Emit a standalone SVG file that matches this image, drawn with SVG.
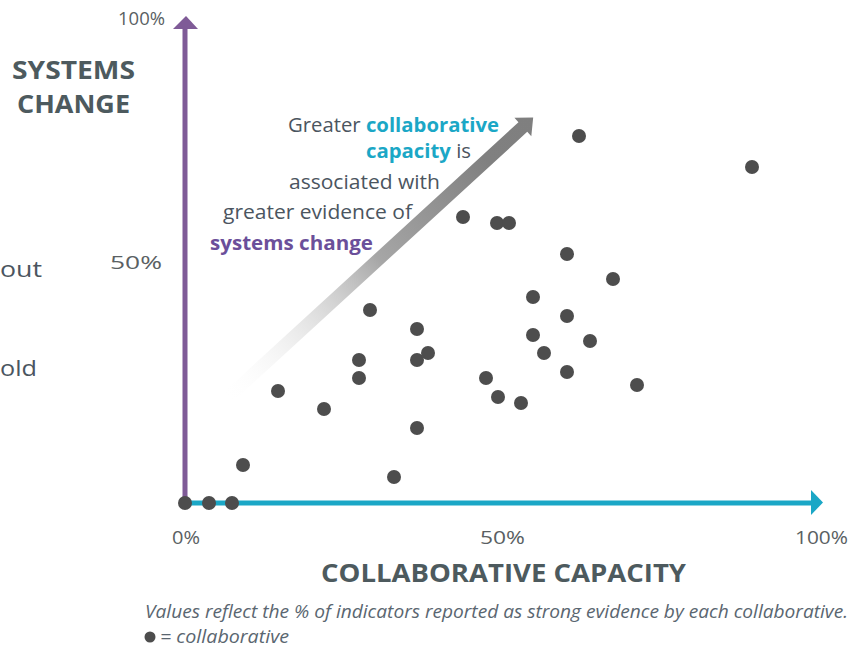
<svg xmlns="http://www.w3.org/2000/svg" width="864" height="650" viewBox="0 0 864 650">
<defs>
<linearGradient id="fade" x1="0" y1="0" x2="1" y2="0">
<stop offset="0" stop-color="#ffffff" stop-opacity="0"/>
<stop offset="0.5" stop-color="#a6a6a6"/>
<stop offset="0.85" stop-color="#808080"/>
<stop offset="1" stop-color="#7f7f7f"/>
</linearGradient>
<style>
.t{font-family:"Open Sans","Liberation Sans",sans-serif;fill:#4b5560}
.tick{font-size:18px;fill:#5a5f63}
.hd{font-weight:bold;font-size:25px;fill:#4d5a5e}
.ann{font-size:20px}
.teal{fill:#1ba7c6;font-weight:bold}
.purp{fill:#6b4f9a;font-weight:bold}
.cap{font-style:italic;font-size:18px;fill:#5a6670}
.dot{fill:#4d4d4d}
</style>
</defs>
<rect width="864" height="650" fill="#ffffff"/>

<!-- clipped side fragments -->
<text class="t" x="0" y="277" font-size="21" textLength="42" lengthAdjust="spacingAndGlyphs">out</text>
<text class="t" x="0" y="376" font-size="21" textLength="37" lengthAdjust="spacingAndGlyphs">old</text>

<!-- axis titles -->
<g id="y-title">
<text class="t hd" x="12" y="79" textLength="123" lengthAdjust="spacingAndGlyphs">SYSTEMS</text>
<text class="t hd" x="17" y="113" textLength="113" lengthAdjust="spacingAndGlyphs">CHANGE</text>
</g>
<g id="x-title">
<text class="t hd" x="321" y="582" font-size="23" textLength="365" lengthAdjust="spacingAndGlyphs">COLLABORATIVE CAPACITY</text>
</g>

<!-- tick labels -->
<g id="ticks">
<text class="t tick" x="118" y="25" textLength="47" lengthAdjust="spacingAndGlyphs">100%</text>
<text class="t tick" x="110" y="269" textLength="52" lengthAdjust="spacingAndGlyphs">50%</text>
<text class="t tick" x="172" y="544" textLength="28" lengthAdjust="spacingAndGlyphs">0%</text>
<text class="t tick" x="480" y="544" textLength="45" lengthAdjust="spacingAndGlyphs">50%</text>
<text class="t tick" x="795" y="544" textLength="53" lengthAdjust="spacingAndGlyphs">100%</text>
</g>

<!-- trend arrow -->
<g id="trend-arrow" transform="translate(225,400) rotate(-42.5)">
<polygon points="0,-6.5 404,-6.5 404,-12.5 418,0 404,12.5 404,6.5 0,6.5" fill="url(#fade)"/>
</g>

<!-- annotation -->
<g id="annotation">
<text class="t ann" x="288" y="132" textLength="211" lengthAdjust="spacingAndGlyphs">Greater <tspan class="teal">collaborative</tspan></text>
<text class="t ann" x="366" y="158" textLength="105" lengthAdjust="spacingAndGlyphs"><tspan class="teal">capacity</tspan> is</text>
<text class="t ann" x="289" y="189" textLength="151" lengthAdjust="spacingAndGlyphs">associated with</text>
<text class="t ann" x="223" y="219" textLength="189" lengthAdjust="spacingAndGlyphs">greater evidence of</text>
<text class="t ann purp" x="210" y="250" textLength="163" lengthAdjust="spacingAndGlyphs">systems change</text>
</g>

<!-- axes -->
<g id="axes">
<line x1="185" y1="503" x2="185" y2="27" stroke="#7f5b97" stroke-width="5"/>
<polygon points="173,29 186,16 198,29" fill="#7f5b97"/>
<line x1="185" y1="503" x2="813" y2="503" stroke="#1ba7c6" stroke-width="5"/>
<polygon points="811,490 823,502.5 811,515" fill="#1ba7c6"/>
</g>

<!-- data points -->
<g id="points">
<circle class="dot" cx="185" cy="503" r="7"/>
<circle class="dot" cx="209" cy="503" r="7"/>
<circle class="dot" cx="232" cy="503" r="7"/>
<circle class="dot" cx="243" cy="465" r="7"/>
<circle class="dot" cx="278" cy="391" r="7"/>
<circle class="dot" cx="324" cy="409" r="7"/>
<circle class="dot" cx="359" cy="360" r="7"/>
<circle class="dot" cx="359" cy="378" r="7"/>
<circle class="dot" cx="370" cy="310" r="7"/>
<circle class="dot" cx="394" cy="477" r="7"/>
<circle class="dot" cx="417" cy="329" r="7"/>
<circle class="dot" cx="417" cy="360" r="7"/>
<circle class="dot" cx="417" cy="428" r="7"/>
<circle class="dot" cx="428" cy="353" r="7"/>
<circle class="dot" cx="463" cy="217" r="7"/>
<circle class="dot" cx="486" cy="378" r="7"/>
<circle class="dot" cx="497" cy="223" r="7"/>
<circle class="dot" cx="509" cy="223" r="7"/>
<circle class="dot" cx="498" cy="397" r="7"/>
<circle class="dot" cx="521" cy="403" r="7"/>
<circle class="dot" cx="533" cy="297" r="7"/>
<circle class="dot" cx="533" cy="335" r="7"/>
<circle class="dot" cx="544" cy="353" r="7"/>
<circle class="dot" cx="567" cy="254" r="7"/>
<circle class="dot" cx="567" cy="316" r="7"/>
<circle class="dot" cx="567" cy="372" r="7"/>
<circle class="dot" cx="579" cy="136" r="7"/>
<circle class="dot" cx="590" cy="341" r="7"/>
<circle class="dot" cx="613" cy="279" r="7"/>
<circle class="dot" cx="637" cy="385" r="7"/>
<circle class="dot" cx="752" cy="167" r="7"/>
</g>

<!-- caption -->
<g id="caption">
<text class="t cap" x="145" y="618" textLength="703" lengthAdjust="spacingAndGlyphs">Values reflect the % of indicators reported as strong evidence by each collaborative.</text>
<circle class="dot" cx="150" cy="637" r="5.5"/>
<text class="t cap" x="160" y="643" textLength="129" lengthAdjust="spacingAndGlyphs">= collaborative</text>
</g>
</svg>
